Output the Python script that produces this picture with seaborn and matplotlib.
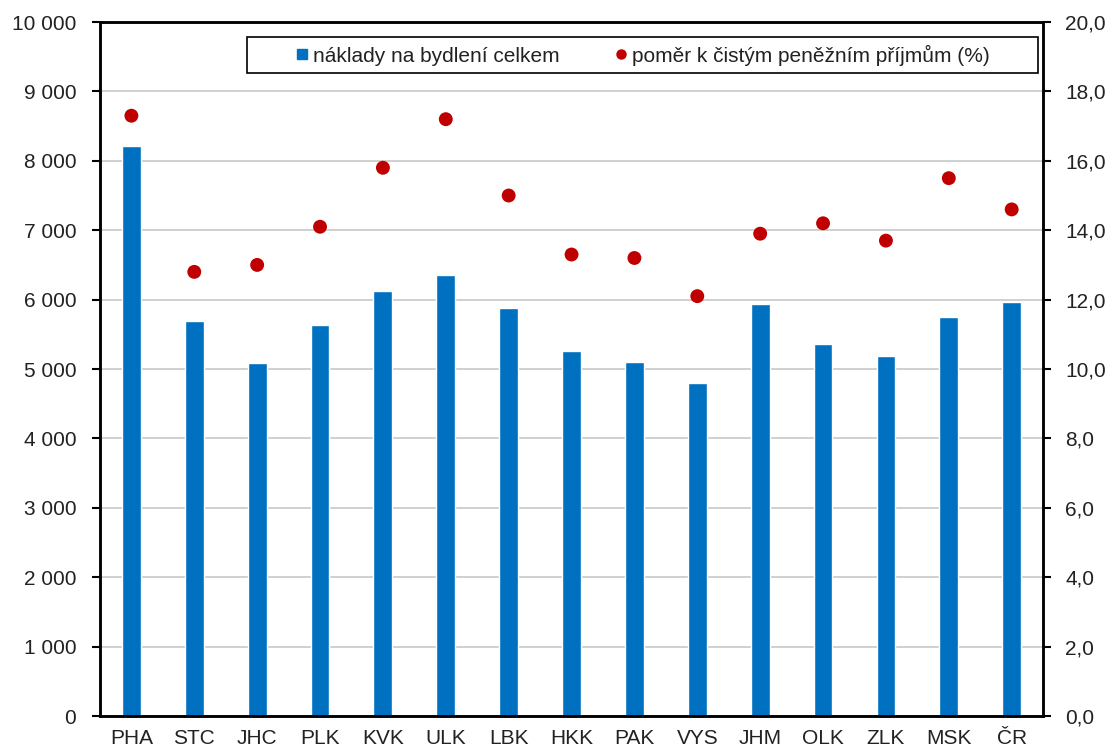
import numpy as np
import pandas as pd
import matplotlib
matplotlib.use("Agg")
import matplotlib.pyplot as plt
from matplotlib.ticker import FuncFormatter, MultipleLocator, FixedLocator
from matplotlib.lines import Line2D
from matplotlib.patches import Rectangle
import seaborn as sns

# data
regions = ['PHA', 'STC', 'JHC', 'PLK', 'KVK', 'ULK', 'LBK', 'HKK',
           'PAK', 'VYS', 'JHM', 'OLK', 'ZLK', 'MSK', 'ČR']
naklady = [8210, 5690, 5080, 5630, 6120, 6360, 5880, 5260,
           5100, 4800, 5940, 5360, 5190, 5750, 5960]
pomer = [17.3, 12.8, 13.0, 14.1, 15.8, 17.2, 15.0, 13.3,
         13.2, 12.1, 13.9, 14.2, 13.7, 15.5, 14.6]

label_bar = 'náklady na bydlení celkem'
label_dot = 'poměr k čistým peněžním příjmům (%)'

BLUE = '#0070C0'
RED = '#C00000'
TXT = '#222222'

df = pd.DataFrame({'kraj': regions, 'naklady': naklady, 'pomer': pomer})

sns.set_style('white')
plt.rcParams['font.family'] = ['Liberation Sans', 'DejaVu Sans']

fig = plt.figure(figsize=(11.07, 7.49), dpi=100)
ax = fig.add_axes([0.0903, 0.044, 0.852, 0.9266])

sns.barplot(data=df, x='kraj', y='naklady', color=BLUE, saturation=1,
            width=0.3, ax=ax, zorder=2)
ax.set_ylim(0, 10000)
ax.set_xlim(-0.5, len(regions) - 0.5)
ax.yaxis.set_major_locator(MultipleLocator(1000))
ax.yaxis.set_major_formatter(FuncFormatter(lambda v, p: f"{int(v):,}".replace(',', ' ')))
ax.grid(axis='y', color='#c8c8c8', linewidth=1.2, zorder=0)
ax.set_axisbelow(True)
ax.set_xlabel('')
ax.set_ylabel('')

# category boundary ticks on x axis
ax.xaxis.set_minor_locator(FixedLocator(np.arange(-0.5, len(regions), 1.0)))
ax.tick_params(axis='x', which='major', length=0, pad=9, labelsize=15, labelcolor=TXT)
ax.tick_params(axis='x', which='minor', length=6, width=1.5, direction='out', color='black')
ax.tick_params(axis='y', length=6, width=1.5, direction='out', color='black',
               labelsize=15, pad=11, left=True, labelcolor=TXT)

ax2 = ax.twinx()
sns.scatterplot(x=np.arange(len(regions)), y=pomer, color=RED, s=100,
                edgecolor='none', ax=ax2, zorder=3)
ax2.set_ylim(0, 20)
ax2.yaxis.set_major_locator(MultipleLocator(2))
ax2.yaxis.set_major_formatter(FuncFormatter(lambda v, p: f"{v:.1f}".replace('.', ',')))
ax2.tick_params(axis='y', length=6, width=1.5, direction='out', color='black',
                labelsize=15, pad=10, right=True, labelcolor=TXT)
ax2.grid(False)

for a in (ax, ax2):
    for s in a.spines.values():
        s.set_color('black')
        s.set_linewidth(1.8)

# legend frame drawn separately so it can be wider than its content
ax2.add_patch(Rectangle((0.1559, 0.9265), 0.8388, 0.0519, transform=ax2.transAxes,
                        facecolor='white', edgecolor='black', linewidth=1.2,
                        zorder=5, clip_on=False))
handles = [
    Line2D([], [], marker='s', linestyle='none', color=BLUE, markersize=7.5),
    Line2D([], [], marker='o', linestyle='none', color=RED, markersize=6.5),
]
leg = ax2.legend(handles, [label_bar, label_dot], ncol=2, loc='center left',
                 bbox_to_anchor=(0.2055, 0.9525), frameon=False,
                 fontsize=15, handletextpad=0.15, columnspacing=2.6,
                 handlelength=0.75, borderpad=0, borderaxespad=0, labelcolor=TXT)
leg.set_zorder(6)

fig.savefig('out.png', dpi=100)
